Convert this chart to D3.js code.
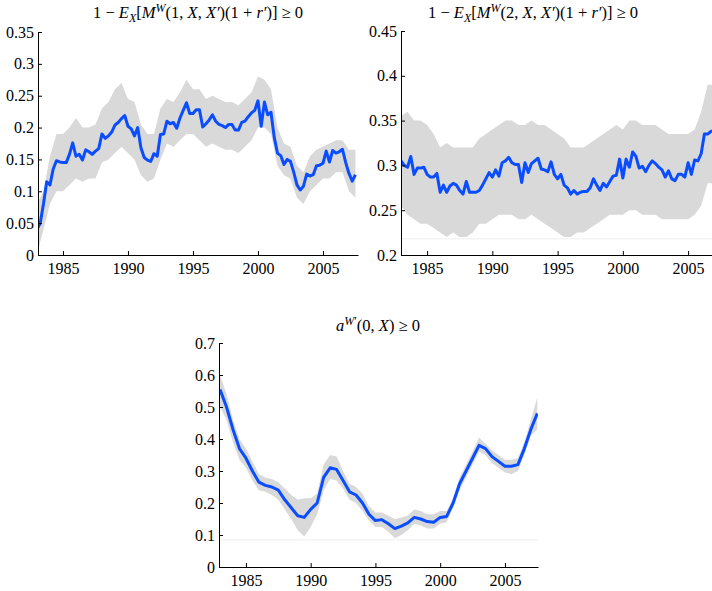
<!DOCTYPE html>
<html><head>
<script src="https://cdn.jsdelivr.net/npm/d3@7"></script>
</head><body style="margin:0;background:#fff"><svg id="c" width="712" height="591"></svg>
<script>
const p1Center=[0.04,0.05,0.08,0.115,0.11,0.135,0.148,0.146,0.145,0.145,0.158,0.176,0.155,0.158,0.149,0.165,0.162,0.158,0.163,0.167,0.19,0.183,0.187,0.193,0.204,0.208,0.214,0.219,0.202,0.198,0.187,0.2,0.168,0.153,0.149,0.147,0.159,0.155,0.189,0.19,0.21,0.206,0.208,0.199,0.215,0.227,0.239,0.222,0.222,0.228,0.228,0.201,0.206,0.212,0.22,0.21,0.205,0.203,0.2,0.205,0.205,0.196,0.196,0.208,0.21,0.217,0.223,0.227,0.242,0.202,0.24,0.22,0.224,0.185,0.16,0.156,0.142,0.15,0.147,0.13,0.11,0.102,0.108,0.127,0.124,0.126,0.14,0.141,0.144,0.163,0.146,0.164,0.16,0.162,0.166,0.145,0.128,0.116,0.126];
const p1Lower=[0.0,0.04,0.08,0.1,0.1,0.11,0.12,0.115,0.12,0.12,0.145,0.15,0.16,0.17,0.16,0.15,0.125,0.115,0.12,0.15,0.175,0.17,0.18,0.19,0.19,0.18,0.17,0.175,0.17,0.165,0.165,0.16,0.17,0.18,0.2,0.2,0.19,0.14,0.125,0.12,0.09,0.08,0.1,0.11,0.12,0.12,0.13,0.13,0.1,0.09];
const p1Upper=[0.08,0.1,0.155,0.19,0.19,0.2,0.215,0.2,0.2,0.205,0.23,0.24,0.26,0.27,0.245,0.24,0.205,0.19,0.19,0.23,0.245,0.24,0.255,0.275,0.26,0.26,0.245,0.25,0.245,0.24,0.24,0.235,0.245,0.255,0.28,0.275,0.26,0.2,0.175,0.17,0.14,0.13,0.155,0.165,0.17,0.175,0.18,0.18,0.165,0.165];
const p2Center=[0.305,0.3,0.298,0.31,0.29,0.297,0.297,0.298,0.29,0.287,0.287,0.291,0.27,0.278,0.27,0.277,0.28,0.278,0.272,0.268,0.282,0.27,0.27,0.27,0.272,0.278,0.285,0.292,0.287,0.295,0.288,0.303,0.305,0.309,0.303,0.301,0.301,0.281,0.303,0.292,0.302,0.305,0.308,0.296,0.295,0.293,0.304,0.29,0.285,0.29,0.278,0.275,0.268,0.272,0.268,0.27,0.271,0.271,0.275,0.285,0.278,0.272,0.28,0.276,0.282,0.288,0.289,0.307,0.286,0.307,0.298,0.315,0.31,0.297,0.299,0.293,0.3,0.305,0.302,0.298,0.295,0.287,0.294,0.285,0.283,0.29,0.29,0.287,0.303,0.29,0.306,0.305,0.313,0.335,0.335,0.338,0.338,0.338];
const p2Upper=[0.355,0.36,0.35,0.35,0.345,0.335,0.32,0.325,0.32,0.32,0.32,0.32,0.33,0.335,0.34,0.345,0.35,0.35,0.345,0.345,0.35,0.345,0.345,0.34,0.335,0.33,0.32,0.32,0.32,0.325,0.33,0.335,0.34,0.345,0.34,0.35,0.35,0.345,0.345,0.345,0.34,0.335,0.335,0.335,0.335,0.34,0.36,0.39,0.39];
const p2Lower=[0.255,0.245,0.24,0.235,0.235,0.23,0.225,0.22,0.225,0.22,0.22,0.225,0.235,0.235,0.24,0.245,0.245,0.245,0.24,0.24,0.245,0.24,0.235,0.23,0.225,0.22,0.22,0.225,0.225,0.23,0.235,0.24,0.245,0.245,0.245,0.25,0.25,0.245,0.245,0.245,0.24,0.24,0.24,0.24,0.24,0.245,0.255,0.28,0.28];
const p3Center=[0.555,0.5,0.43,0.37,0.34,0.3,0.265,0.255,0.25,0.24,0.21,0.185,0.16,0.155,0.18,0.2,0.28,0.31,0.305,0.27,0.235,0.225,0.2,0.165,0.145,0.148,0.135,0.12,0.128,0.138,0.155,0.15,0.142,0.14,0.155,0.158,0.2,0.26,0.3,0.34,0.38,0.37,0.345,0.33,0.315,0.315,0.32,0.37,0.43,0.48];
const p3Upper=[0.6,0.54,0.46,0.4,0.37,0.33,0.29,0.28,0.275,0.265,0.245,0.225,0.21,0.215,0.215,0.23,0.32,0.35,0.345,0.3,0.26,0.25,0.23,0.19,0.17,0.17,0.16,0.15,0.155,0.16,0.18,0.175,0.165,0.165,0.175,0.175,0.215,0.28,0.32,0.36,0.405,0.385,0.365,0.35,0.335,0.335,0.34,0.39,0.46,0.53];
const p3Lower=[0.5,0.46,0.39,0.335,0.31,0.27,0.24,0.235,0.225,0.21,0.18,0.15,0.115,0.095,0.125,0.165,0.24,0.275,0.27,0.245,0.21,0.2,0.175,0.145,0.125,0.125,0.11,0.09,0.1,0.115,0.135,0.13,0.12,0.12,0.135,0.14,0.185,0.24,0.28,0.32,0.36,0.35,0.325,0.31,0.295,0.29,0.3,0.35,0.41,0.43];
const xTicks=[1985,1990,1995,2000,2005];
const startYear=1983;
const FONT="Liberation Serif";

const svg=d3.select("#c");
function panel(o){
  const g=svg.append("g");
  const x=d3.scaleLinear().domain(o.xd).range([o.l,o.r]);
  const y=d3.scaleLinear().domain(o.yd).range([o.b,o.t]);
  const id="clip"+o.id;
  svg.append("clipPath").attr("id",id).append("rect").attr("x",o.l).attr("y",o.t-5).attr("width",o.r-o.l).attr("height",o.b-o.t+5);
  const pg=g.append("g").attr("clip-path",`url(#${id})`);
  const band=o.lo.map((v,i)=>({t:startYear+i*o.bs,lo:v,hi:o.hi[i]}));
  pg.append("path").datum(band).attr("fill","#d9d9d9")
    .attr("d",d3.area().x(d=>x(d.t)).y0(d=>y(d.lo)).y1(d=>y(d.hi)));
  if(o.faint!=null) pg.append("line").attr("x1",o.l).attr("x2",o.r).attr("y1",y(o.faint)).attr("y2",y(o.faint)).attr("stroke","#eee");
  const line=o.c.map((v,i)=>({t:startYear+i*o.cs,v}));
  pg.append("path").datum(line).attr("fill","none").attr("stroke","#0a4dff").attr("stroke-width",3).attr("stroke-linejoin","round")
    .attr("d",d3.line().x(d=>x(d.t)).y(d=>y(d.v)));
  const ya=g.append("g").attr("transform",`translate(${o.l},0)`).call(d3.axisLeft(y).tickValues(o.yt).tickFormat(d=>String(+d.toFixed(2))).tickSizeInner(-4).tickSizeOuter(0).tickPadding(6));
  const xa=g.append("g").attr("transform",`translate(0,${o.b})`).call(d3.axisBottom(x).tickValues(xTicks).tickFormat(d3.format("d")).tickSizeInner(-4).tickSizeOuter(0).tickPadding(8));
  [ya,xa].forEach(a=>{a.attr("font-family",FONT).attr("font-size",16);a.selectAll("text").attr("font-size",16).attr("fill","#000").attr("font-family",FONT);a.select(".domain").attr("stroke","#000");});
  ya.selectAll("text").attr("x",-4);
  const tt=g.append("text").attr("x",o.tx).attr("y",o.ty).attr("text-anchor","middle").attr("font-size",16.5).attr("font-family",FONT);
  o.title(tt);
}
function t12(n){return tt=>{
  tt.append("tspan").text("1 − ");
  tt.append("tspan").attr("font-style","italic").text("E");
  tt.append("tspan").attr("font-style","italic").attr("font-size",12).attr("dy",4).text("X");
  tt.append("tspan").attr("dy",-4).text("[");
  tt.append("tspan").attr("font-style","italic").text("M");
  tt.append("tspan").attr("font-style","italic").attr("font-size",12).attr("dy",-6).text("W");
  tt.append("tspan").attr("dy",6).text("("+n+", ");
  tt.append("tspan").attr("font-style","italic").text("X");
  tt.append("tspan").text(", ");
  tt.append("tspan").attr("font-style","italic").text("X′");
  tt.append("tspan").text(")(1 + ");
  tt.append("tspan").attr("font-style","italic").text("r′");
  tt.append("tspan").text(")] ≥ 0");
};}
panel({id:1,l:38,r:358,t:32,b:255,xd:[1983.08,1983.08+320/13],yd:[0,0.35],yt:[0,0.05,0.1,0.15,0.2,0.25,0.3,0.35],
  c:p1Center,cs:0.25,lo:p1Lower,hi:p1Upper,bs:0.5,tx:198,ty:18,title:t12(1)});
panel({id:2,l:401,r:712,t:31,b:255,xd:[1983.0,1983.0+311/13.05],yd:[0.2,0.45],yt:[0.2,0.25,0.3,0.35,0.4,0.45],
  c:p2Center,cs:0.25,lo:p2Lower,hi:p2Upper,bs:0.5,faint:0.218,tx:533,ty:18,title:t12(2)});
panel({id:3,l:219,r:538,t:343,b:567,xd:[1982.92,1982.92+319/12.95],yd:[0,0.7],yt:[0,0.1,0.2,0.3,0.4,0.5,0.6,0.7],
  c:p3Center,cs:0.5,lo:p3Lower,hi:p3Upper,bs:0.5,faint:0.085,tx:378,ty:331,title:tt=>{
    tt.append("tspan").attr("font-style","italic").text("a");
    tt.append("tspan").attr("font-style","italic").attr("font-size",12).attr("dy",-6).text("W");
    tt.append("tspan").attr("font-size",12).text("′");
    tt.append("tspan").attr("dy",6).text("(0, ");
    tt.append("tspan").attr("font-style","italic").text("X");
    tt.append("tspan").text(") ≥ 0");
  }});
</script></body></html>
